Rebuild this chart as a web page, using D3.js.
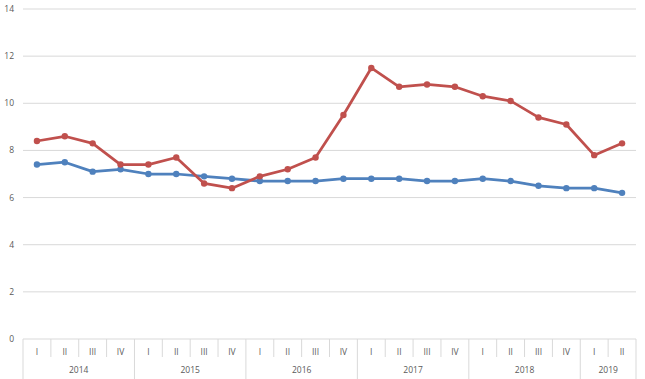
<!DOCTYPE html>
<html><head><meta charset="utf-8">
<script src="https://cdn.jsdelivr.net/npm/d3@7"></script>
<style>body{margin:0;background:#fff}svg{display:block;font-family:"Open Sans","Liberation Sans",sans-serif}text{-webkit-font-smoothing:antialiased}</style>
</head><body><svg id="c" width="645" height="379"></svg>
<script>
const quarters = ["I","II","III","IV","I","II","III","IV","I","II","III","IV","I","II","III","IV","I","II","III","IV","I","II"];
const years = [{label:"2014",n:4},{label:"2015",n:4},{label:"2016",n:4},{label:"2017",n:4},{label:"2018",n:4},{label:"2019",n:2}];
const redSeries = [8.4,8.6,8.3,7.4,7.4,7.7,6.6,6.4,6.9,7.2,7.7,9.5,11.5,10.7,10.8,10.7,10.3,10.1,9.4,9.1,7.8,8.3];
const blueSeries = [7.4,7.5,7.1,7.2,7.0,7.0,6.9,6.8,6.7,6.7,6.7,6.8,6.8,6.8,6.7,6.7,6.8,6.7,6.5,6.4,6.4,6.2];
const yTicks = [0,2,4,6,8,10,12,14];

const svg = d3.select("#c");
const L=23, R=636, T=9, B=339;
const idx = d3.range(quarters.length);
const x = d3.scaleBand().domain(idx).range([L,R]);
const y = d3.scaleLinear().domain([0,14]).range([B,T]);
const grid="#d9d9d9", txt="#595959";

svg.append("g").selectAll("line").data(yTicks.filter(t=>t>0)).join("line")
  .attr("x1",L).attr("x2",R).attr("y1",d=>y(d)).attr("y2",d=>y(d))
  .attr("stroke",grid).attr("stroke-width",1);
svg.append("g").selectAll("text").data(yTicks).join("text")
  .attr("x",14).attr("y",d=>y(d)+3).attr("text-anchor","end")
  .attr("font-size",8.5).attr("fill",txt).text(d=>d);

svg.append("line").attr("x1",L).attr("x2",R).attr("y1",B).attr("y2",B).attr("stroke",grid);
const bw = x.bandwidth();
svg.append("g").selectAll("line").data(d3.range(quarters.length+1)).join("line")
  .attr("x1",i=>L+i*bw).attr("x2",i=>L+i*bw).attr("y1",B).attr("y2",357)
  .attr("stroke",grid);
let cum=[0]; years.forEach(yr=>cum.push(cum[cum.length-1]+yr.n));
svg.append("g").selectAll("line").data(cum).join("line")
  .attr("x1",i=>L+i*bw).attr("x2",i=>L+i*bw).attr("y1",357).attr("y2",379)
  .attr("stroke",grid);
svg.append("g").attr("opacity",0.99).selectAll("text").data(idx).join("text")
  .attr("x",i=>x(i)+bw/2).attr("y",355).attr("text-anchor","middle")
  .attr("font-size",8.5).attr("fill",txt).text(i=>quarters[i]);
svg.append("g").attr("opacity",0.99).selectAll("text").data(years).join("text")
  .attr("x",(d,i)=>L+(cum[i]+d.n/2)*bw).attr("y",373).attr("text-anchor","middle")
  .attr("font-size",8.5).attr("fill",txt).text(d=>d.label);

function drawSeries(vals,color){
  const line=d3.line().x((d,i)=>x(i)+bw/2).y(d=>y(d));
  svg.append("path").datum(vals).attr("d",line).attr("fill","none")
    .attr("stroke",color).attr("stroke-width",2.75).attr("stroke-linejoin","round");
  svg.append("g").selectAll("circle").data(vals).join("circle")
    .attr("cx",(d,i)=>x(i)+bw/2).attr("cy",d=>y(d)).attr("r",3.2).attr("fill",color);
}
drawSeries(blueSeries,"#4f81bd");
drawSeries(redSeries,"#c0504d");
</script></body></html>
